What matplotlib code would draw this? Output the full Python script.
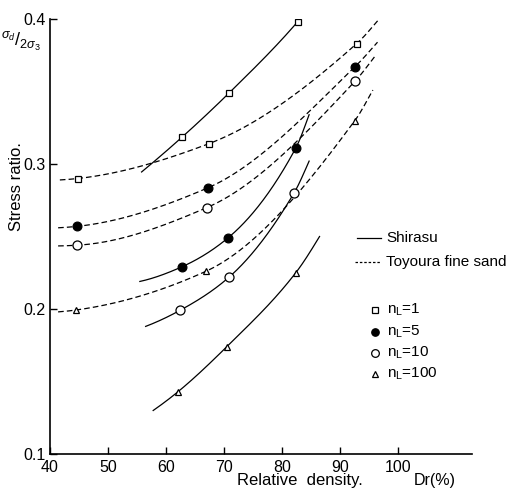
import numpy as np
import matplotlib
matplotlib.use("Agg")
import matplotlib.pyplot as plt

plt.rcParams["font.family"] = ["Liberation Sans", "DejaVu Sans"]
plt.rcParams["mathtext.fontset"] = "custom"
plt.rcParams["mathtext.rm"] = "Liberation Sans"
plt.rcParams["mathtext.it"] = "Liberation Sans:italic"

# ---- data ----
# Each curve: measured points plus the visible start/end of the drawn curve
# Shirasu (solid lines)
shirasu_n1_x = [62.8, 70.9, 82.7]
shirasu_n1_y = [0.3186, 0.349, 0.398]
shirasu_n1_ends = [(55.8, 0.2945), (84.7, 0.408)]

shirasu_n5_x = [62.7, 70.7, 82.4]
shirasu_n5_y = [0.229, 0.249, 0.311]
shirasu_n5_ends = [(55.5, 0.219), (84.7, 0.334)]

shirasu_n10_x = [62.4, 70.9, 82.1]
shirasu_n10_y = [0.199, 0.222, 0.280]
shirasu_n10_ends = [(56.5, 0.188), (84.7, 0.302)]

shirasu_n100_x = [62.1, 70.5, 82.4]
shirasu_n100_y = [0.143, 0.174, 0.225]
shirasu_n100_ends = [(57.8, 0.130), (86.5, 0.250)]

# Toyoura fine sand (dashed lines)
toyoura_n1_x = [44.8, 67.4, 92.9]
toyoura_n1_y = [0.290, 0.314, 0.383]
toyoura_n1_ends = [(41.7, 0.289), (97.0, 0.401)]

toyoura_n5_x = [44.7, 67.2, 92.6]
toyoura_n5_y = [0.257, 0.2835, 0.367]
toyoura_n5_ends = [(41.4, 0.256), (96.5, 0.384)]

toyoura_n10_x = [44.7, 67.1, 92.6]
toyoura_n10_y = [0.244, 0.270, 0.357]
toyoura_n10_ends = [(41.4, 0.2435), (96.0, 0.374)]

toyoura_n100_x = [44.5, 66.9, 92.6]
toyoura_n100_y = [0.1993, 0.226, 0.330]
toyoura_n100_ends = [(41.4, 0.198), (95.7, 0.351)]

x_ticks = [40, 50, 60, 70, 80, 90, 100]
y_ticks = [0.1, 0.2, 0.3, 0.4]
y_tick_labels = ["0.1", "0.2", "0.3", "0.4"]
legend_labels = ["n$_\\mathregular{L}$=1", "n$_\\mathregular{L}$=5",
                 "n$_\\mathregular{L}$=10", "n$_\\mathregular{L}$=100"]

# ---- styles ----
mk = {
    "n1": dict(marker="s", ms=5.0, mfc="white", mec="black", mew=0.9),
    "n5": dict(marker="o", ms=6.3, mfc="black", mec="black", mew=0.9),
    "n10": dict(marker="o", ms=6.5, mfc="white", mec="black", mew=0.9),
    "n100": dict(marker="^", ms=5.0, mfc="white", mec="black", mew=0.9),
}


def pchip(xk, yk, xx):
    xk = np.asarray(xk, float)
    yk = np.asarray(yk, float)
    h = np.diff(xk)
    d = np.diff(yk) / h
    n = len(xk)
    m = np.zeros(n)
    for k in range(1, n - 1):
        if d[k - 1] * d[k] <= 0:
            m[k] = 0
        else:
            w1 = 2 * h[k] + h[k - 1]
            w2 = h[k] + 2 * h[k - 1]
            m[k] = (w1 + w2) / (w1 / d[k - 1] + w2 / d[k])
    m[0] = ((2 * h[0] + h[1]) * d[0] - h[0] * d[1]) / (h[0] + h[1])
    if m[0] * d[0] <= 0:
        m[0] = 0
    m[-1] = ((2 * h[-1] + h[-2]) * d[-1] - h[-1] * d[-2]) / (h[-1] + h[-2])
    if m[-1] * d[-1] <= 0:
        m[-1] = 0
    idx = np.clip(np.searchsorted(xk, xx) - 1, 0, n - 2)
    t = (xx - xk[idx]) / h[idx]
    h00 = 2 * t**3 - 3 * t**2 + 1
    h10 = t**3 - 2 * t**2 + t
    h01 = -2 * t**3 + 3 * t**2
    h11 = t**3 - t**2
    return (h00 * yk[idx] + h10 * h[idx] * m[idx] + h01 * yk[idx + 1]
            + h11 * h[idx] * m[idx + 1])


fig = plt.figure(figsize=(5.12, 4.92), dpi=100)
ax = fig.add_axes([50/512, 1-454/492, 422/512, 435/492])
ax.set_xlim(40, 112.8)
ax.set_ylim(0.1, 0.4)


def draw(xs, ys, ends, style, solid):
    xk = [ends[0][0]] + list(xs) + [ends[1][0]]
    yk = [ends[0][1]] + list(ys) + [ends[1][1]]
    xx = np.linspace(xk[0], xk[-1], 300)
    ls = "-" if solid else (0, (4.5, 2.5))
    ax.plot(xx, pchip(xk, yk, xx), color="black", lw=0.9, ls=ls, zorder=2)
    ax.plot(xs, ys, ls="none", zorder=3, **style)


draw(shirasu_n1_x, shirasu_n1_y, shirasu_n1_ends, mk["n1"], True)
draw(shirasu_n5_x, shirasu_n5_y, shirasu_n5_ends, mk["n5"], True)
draw(shirasu_n10_x, shirasu_n10_y, shirasu_n10_ends, mk["n10"], True)
draw(shirasu_n100_x, shirasu_n100_y, shirasu_n100_ends, mk["n100"], True)
draw(toyoura_n1_x, toyoura_n1_y, toyoura_n1_ends, mk["n1"], False)
draw(toyoura_n5_x, toyoura_n5_y, toyoura_n5_ends, mk["n5"], False)
draw(toyoura_n10_x, toyoura_n10_y, toyoura_n10_ends, mk["n10"], False)
draw(toyoura_n100_x, toyoura_n100_y, toyoura_n100_ends, mk["n100"], False)

# axes styling
for s in ["top", "right"]:
    ax.spines[s].set_visible(False)
ax.spines["left"].set_linewidth(1.2)
ax.spines["bottom"].set_linewidth(1.2)
ax.set_xticks(x_ticks)
ax.set_xticklabels([str(v) for v in x_ticks])
ax.set_yticks(y_ticks)
ax.set_yticklabels(y_tick_labels)
ax.tick_params(direction="in", length=5, width=1, labelsize=11.5)
ax.tick_params(axis="x", pad=4)
ax.tick_params(axis="y", pad=3)


def fx(px):
    return px / 512


def fy(py):
    return 1 - py / 492


# axis labels
fig.text(fx(21), fy(41), r"$^{\sigma_d}/_{2\sigma_3}$", fontsize=13,
         ha="center", va="center")
fig.text(fx(17), fy(187), "Stress ratio.", rotation=90, fontsize=12,
         ha="center", va="center")
fig.text(fx(300), fy(481), "Relative  density.", fontsize=12,
         ha="center", va="center")
fig.text(fx(435), fy(481), "Dr(%)", fontsize=11.5, ha="center", va="center")

# line-type legend
fig.add_artist(plt.Line2D([fx(357), fx(381)], [fy(238), fy(238)], color="black", lw=0.9))
fig.add_artist(plt.Line2D([fx(355), fx(381)], [fy(262), fy(262)], color="black", lw=0.9,
                          ls=(0, (2, 1.5))))
fig.text(fx(386), fy(238), "Shirasu", fontsize=11, ha="left", va="center")
fig.text(fx(386), fy(262), "Toyoura fine sand", fontsize=11, ha="left", va="center")

# marker legend
for i, (key, lab) in enumerate(zip(["n1", "n5", "n10", "n100"], legend_labels)):
    py = [310, 332, 353, 374][i]
    st = dict(mk[key])
    st["ms"] = st["ms"] * 0.85
    fig.add_artist(plt.Line2D([fx(375)], [fy(py)], ls="none", **st))
    fig.text(fx(387), fy(py), lab, fontsize=11, ha="left", va="center")

fig.savefig("out.png", dpi=100)
